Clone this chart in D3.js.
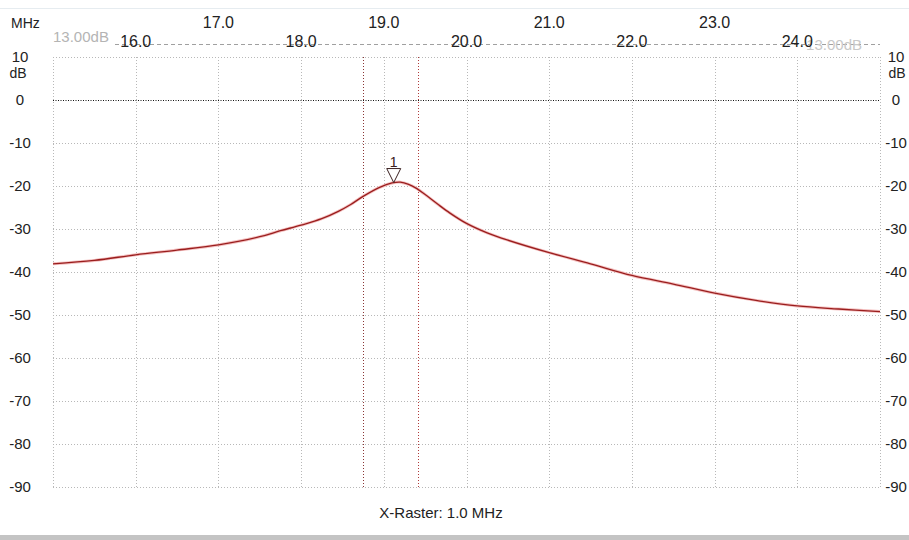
<!DOCTYPE html>
<html>
<head>
<meta charset="utf-8">
<script src="https://cdn.jsdelivr.net/npm/d3@7"></script>
<style>
  html, body { margin: 0; padding: 0; background: #fff; }
  svg { display: block; }
  text { font-family: "Liberation Sans", Arial, sans-serif; }
</style>
</head>
<body>
<svg id="chart" width="909" height="540"></svg>
<script>
// Sweep: frequency (MHz) and measured level (dB)
const freqMHz = [15.0, 15.5, 16.0, 16.5, 17.0, 17.5, 17.75, 18.0, 18.25, 18.45, 18.6, 18.75, 18.95,
                 19.1, 19.2, 19.3, 19.4, 19.5, 19.65, 19.8, 20.0, 20.25, 20.5, 21.0, 21.5, 22.0, 22.5,
                 23.0, 23.5, 24.0, 24.5, 25.0];
const levelDb = [-38.1, -37.3, -36.0, -34.9, -33.7, -31.8, -30.4, -29.1, -27.6, -25.9, -24.3, -22.4, -20.3,
                 -19.3, -19.1, -19.6, -20.6, -22.0, -24.2, -26.3, -28.7, -30.9, -32.6, -35.5, -38.1, -40.8, -42.8,
                 -44.9, -46.6, -47.9, -48.6, -49.2];

// Axis ticks
const freqTicks = [15, 16, 17, 18, 19, 20, 21, 22, 23, 24, 25];
const freqLabels = ["16.0", "17.0", "18.0", "19.0", "20.0", "21.0", "22.0", "23.0", "24.0"];
const dbTicks = [10, 0, -10, -20, -30, -40, -50, -60, -70, -80, -90];

// Reference level, marker and bandwidth cursors
const refLevelDb = [13.0];
const refLevelText = ["13.00dB"];
const markerFreq = [19.12];
const markerDb = [-19.2];
const markerText = ["1"];
const cursorFreqs = [18.75, 19.41];
const rasterText = ["X-Raster: 1.0 MHz"];

const svg = d3.select("#chart");
const x = d3.scaleLinear().domain([15, 25]).range([53, 880]);
const y = d3.scaleLinear().domain([-90, 10]).range([487, 57]);

svg.append("rect").attr("width", 909).attr("height", 540).attr("fill", "#fff");
svg.append("line").attr("x1", 0).attr("x2", 909).attr("y1", 8.5).attr("y2", 8.5)
  .attr("stroke", "#e6ecf0").attr("stroke-width", 1);
svg.append("rect").attr("x", 0).attr("y", 535).attr("width", 909).attr("height", 5).attr("fill", "#c4c4c4");

// Grid
const grid = svg.append("g");
grid.selectAll("line.v").data(freqTicks).join("line")
  .attr("class", "v")
  .attr("x1", d => Math.round(x(d)) + 0.5).attr("x2", d => Math.round(x(d)) + 0.5)
  .attr("y1", y(10)).attr("y2", y(-90))
  .attr("stroke", "#b8b8b8").attr("stroke-dasharray", "1,2");
grid.selectAll("line.h").data(dbTicks.filter(d => d !== 0)).join("line")
  .attr("class", "h")
  .attr("x1", x(15)).attr("x2", x(25))
  .attr("y1", d => Math.round(y(d)) + 0.5).attr("y2", d => Math.round(y(d)) + 0.5)
  .attr("stroke", "#b8b8b8").attr("stroke-dasharray", "1,2");
grid.append("line")
  .attr("x1", x(15)).attr("x2", x(25))
  .attr("y1", Math.round(y(0)) + 0.5).attr("y2", Math.round(y(0)) + 0.5)
  .attr("stroke", "#111").attr("stroke-dasharray", "1,1.5");

// Reference level line
svg.append("line")
  .attr("x1", x(15) + 62).attr("x2", x(25))
  .attr("y1", Math.round(y(refLevelDb[0])) + 0.5).attr("y2", Math.round(y(refLevelDb[0])) + 0.5)
  .attr("stroke", "#a0a0a0").attr("stroke-dasharray", "4,3");
svg.append("text").attr("x", x(15)).attr("y", y(refLevelDb[0]) - 2)
  .attr("font-size", 15).attr("fill", "#b4b4b4").text(refLevelText[0]);
svg.append("text").attr("x", x(25) - 18).attr("y", y(refLevelDb[0]) + 6)
  .attr("font-size", 15).attr("fill", "#c8c8c8").attr("text-anchor", "end").text(refLevelText[0]);

// Frequency labels on two alternating rows
const topAxis = svg.append("g");
topAxis.selectAll("text").data(freqLabels).join("text")
  .attr("x", d => x(+d))
  .attr("y", (d, i) => i % 2 === 0 ? 47 : 28)
  .attr("text-anchor", "middle").attr("font-size", 16).attr("fill", "#222")
  .text(d => d);
svg.append("text").attr("x", 11).attr("y", 28).attr("font-size", 14).attr("fill", "#222").text("MHz");

// dB labels on both sides
const yAxisL = d3.axisLeft(y).tickValues(dbTicks).tickSize(0).tickPadding(0)
  .tickFormat(d => String(d));
const gl = svg.append("g").attr("transform", "translate(20,0)").call(yAxisL);
const gr = svg.append("g").attr("transform", "translate(896,0)").call(yAxisL);
[gl, gr].forEach(g => {
  g.select(".domain").remove();
  g.selectAll("text").attr("text-anchor", "middle").attr("font-size", 15)
    .attr("font-family", "'Liberation Sans', Arial, sans-serif").attr("fill", "#222");
});
svg.append("text").attr("x", 18).attr("y", 78).attr("text-anchor", "middle")
  .attr("font-size", 14).attr("fill", "#222").text("dB");
svg.append("text").attr("x", 897).attr("y", 78).attr("text-anchor", "middle")
  .attr("font-size", 14).attr("fill", "#222").text("dB");

// Bandwidth cursors
svg.selectAll("line.cursor").data(cursorFreqs).join("line")
  .attr("class", "cursor")
  .attr("x1", d => Math.round(x(d)) + 0.5).attr("x2", d => Math.round(x(d)) + 0.5)
  .attr("y1", y(10)).attr("y2", y(-90))
  .attr("stroke", (d, i) => i === 0 ? "#8a3434" : "#b03a3a").attr("stroke-dasharray", "1,2");

// Trace
const pts = freqMHz.map((f, i) => [f, levelDb[i]]);
const line = d3.line().x(d => x(d[0])).y(d => y(d[1])).curve(d3.curveCatmullRom.alpha(0.5));
svg.append("path").datum(pts).attr("d", line)
  .attr("fill", "none").attr("stroke", "#f4c0c0").attr("stroke-width", 3);
svg.append("path").datum(pts).attr("d", line)
  .attr("fill", "none").attr("stroke", "#9a1e1e").attr("stroke-width", 1.3);

// Marker 1
const mx = x(markerFreq[0]), my = y(markerDb[0]);
svg.append("path")
  .attr("d", `M${mx - 7},${my - 14} L${mx + 7},${my - 14} L${mx},${my} Z`)
  .attr("fill", "#fff").attr("stroke", "#3a2020").attr("stroke-width", 1);
svg.append("text").attr("x", mx).attr("y", my - 16).attr("text-anchor", "middle")
  .attr("font-size", 14).attr("fill", "#3a2020").text(markerText[0]);

// Raster note
svg.append("text").attr("x", 441).attr("y", 518).attr("text-anchor", "middle")
  .attr("font-size", 15).attr("fill", "#222").text(rasterText[0]);
</script>
</body>
</html>
